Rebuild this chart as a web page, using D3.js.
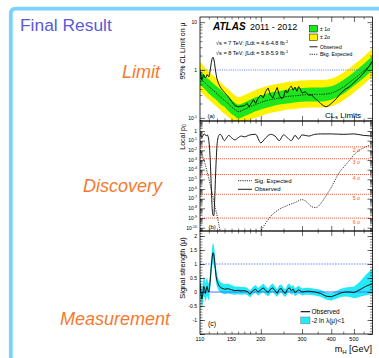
<!DOCTYPE html>
<html>
<head>
<meta charset="utf-8">
<script src="https://cdn.jsdelivr.net/npm/d3@7"></script>
<style>
body { margin:0; background:#fff; }
svg { display:block; font-family:"Liberation Sans", Arial, Helvetica, sans-serif; }
</style>
</head>
<body>
<svg id="chart" width="379" height="358"></svg>
<script>
// ---- data ----
// (a) 95% CL limit on mu
var limitMass = [110,115,120,125,130,135,140,145,150,155,160,165,170,180,190,200,220,240,260,280,300,330,360,400,450,500,550,600];
var limitExp  = [0.68,0.55,0.45,0.38,0.32,0.27,0.23,0.2,0.17,0.15,0.135,0.14,0.15,0.17,0.19,0.21,0.24,0.26,0.28,0.29,0.3,0.31,0.31,0.33,0.44,0.65,0.95,1.4];
var limitP1   = [0.98,0.77,0.63,0.53,0.45,0.38,0.32,0.28,0.24,0.21,0.19,0.196,0.21,0.24,0.27,0.29,0.34,0.36,0.39,0.41,0.42,0.43,0.43,0.46,0.62,0.91,1.33,1.96];
var limitP2   = [1.5,1.15,0.92,0.77,0.65,0.55,0.46,0.4,0.34,0.3,0.27,0.28,0.3,0.34,0.38,0.42,0.48,0.52,0.56,0.58,0.6,0.62,0.62,0.66,0.88,1.3,1.9,2.8];
var limitM1   = [0.49,0.4,0.32,0.27,0.23,0.19,0.17,0.14,0.12,0.108,0.097,0.1,0.108,0.122,0.137,0.15,0.17,0.19,0.2,0.21,0.216,0.22,0.22,0.24,0.32,0.47,0.68,1.0];
var limitM2   = [0.36,0.29,0.24,0.2,0.17,0.14,0.12,0.106,0.09,0.08,0.072,0.074,0.08,0.09,0.1,0.11,0.127,0.138,0.15,0.154,0.16,0.164,0.164,0.175,0.23,0.34,0.5,0.74];

var obsLimitMass = [110,111,112,113,114,115,116,117,118,119,120,121,122,123,124,125,126,127,128,129,130,132,134,136,138,140,143,146,150,155,160,165,170,175,178,182,186,190,195,200,205,210,215,220,225,230,235,240,245,250,255,260,265,270,275,280,285,290,295,300,310,320,330,340,350,360,370,380,390,400,420,440,460,480,500,520,540,560,580,600];
var obsLimit     = [0.95,0.75,0.62,0.7,0.8,0.72,0.68,0.72,0.8,0.75,0.72,0.85,1.1,1.45,1.75,1.85,1.7,1.35,1.0,0.8,0.65,0.52,0.45,0.4,0.37,0.34,0.3,0.27,0.22,0.18,0.17,0.175,0.18,0.2,0.17,0.2,0.24,0.2,0.26,0.3,0.26,0.36,0.42,0.3,0.26,0.34,0.43,0.3,0.25,0.27,0.38,0.33,0.42,0.46,0.38,0.44,0.36,0.45,0.4,0.33,0.35,0.3,0.3,0.26,0.23,0.2,0.18,0.17,0.18,0.2,0.25,0.33,0.4,0.45,0.55,0.65,0.78,0.95,1.2,1.55];

// (b) local p0
var p0Mass = [110,111,112,113,114,115,116,117,118,119,120,121,122,123,124,125,126,127,128,129,130,131,132,134,136,138,140,143,146,150,155,160,165,170,180,190,200,210,220,230,240,250,260,270,280,290,300,320,340,360,380,400,450,500,550,600];
var p0Obs  = [0.5,0.35,0.2,0.3,0.45,0.5,0.4,0.3,0.4,0.3,0.1,0.01,2e-4,1e-6,1e-8,2e-9,1.7e-9,5e-8,1e-5,1e-3,0.03,0.15,0.3,0.45,0.35,0.15,0.1,0.2,0.35,0.2,0.12,0.2,0.3,0.25,0.4,0.45,0.06,0.2,0.45,0.3,0.1,0.4,0.2,0.1,0.35,0.15,0.4,0.3,0.45,0.5,0.5,0.5,0.45,0.5,0.35,0.3];
var p0ExpMass = [110,112,114,116,118,120,122,124,126,128,130,132,134,136,150,170,190,200,210,220,240,260,280,300,310,330,345,360,380,400,430,460,480,500,530,560,585];
var p0Exp     = [1.1e-2,4e-3,1.2e-3,3e-4,6e-5,1.2e-5,2e-6,4e-7,6e-8,1e-8,2e-9,3e-10,5e-11,8e-12,1e-14,1e-14,1e-12,4e-11,3e-10,1.4e-9,8e-9,2e-8,4e-8,8e-8,6e-8,1.5e-8,1.2e-8,3e-8,2e-7,1.5e-6,4e-5,3e-4,1e-3,3.5e-3,1.1e-2,2.2e-2,3.5e-2];
var sigmaLabels = ["2 \u03c3","3 \u03c3","4 \u03c3","5 \u03c3","6 \u03c3"];
var sigmaP0     = [0.02275,1.35e-3,3.17e-5,2.87e-7,9.87e-10];

// (c) signal strength
var muMass = [110,111,112,113,114,115,116,117,118,119,120,121,122,123,124,125,126,127,128,129,130,132,135,140,145,150,155,160,165,170,175,180,185,190,195,200,205,210,215,220,225,230,235,240,245,250,255,260,265,270,275,280,290,300,310,320,340,360,380,400,420,440,460,480,500,520,540,560,580,600];
var muObs  = [0.3,0.0,-0.25,-0.1,0.2,0.15,-0.05,0.1,0.2,0.05,0.0,0.2,0.55,0.95,1.25,1.4,1.35,1.1,0.8,0.55,0.4,0.25,0.15,0.1,0.12,0.08,0.05,0.06,0.04,0.05,0.02,-0.08,0.05,0.1,0.0,0.08,0.15,0.05,-0.02,0.1,0.15,0.05,-0.05,0.1,0.12,0.0,-0.05,0.1,0.15,0.05,0.1,-0.02,0.08,0.0,0.02,0.03,0.0,-0.05,-0.15,-0.17,-0.1,-0.03,0.0,0.0,-0.02,0.05,0.12,0.2,0.25,0.3];
var muLow  = [-0.1,-0.35,-0.6,-0.45,-0.15,-0.2,-0.35,-0.25,-0.12,-0.25,-0.3,-0.1,0.25,0.6,0.9,1.05,1.0,0.8,0.5,0.3,0.18,0.05,-0.03,-0.08,-0.05,-0.08,-0.1,-0.08,-0.1,-0.08,-0.1,-0.2,-0.08,-0.03,-0.13,-0.05,0.0,-0.1,-0.15,-0.05,0.0,-0.1,-0.18,-0.05,-0.02,-0.13,-0.18,-0.05,0.0,-0.1,-0.05,-0.15,-0.05,-0.12,-0.1,-0.1,-0.12,-0.17,-0.27,-0.3,-0.24,-0.18,-0.16,-0.18,-0.22,-0.2,-0.15,-0.12,-0.1,-0.05];
var muHigh = [0.65,0.35,0.1,0.25,0.55,0.5,0.3,0.45,0.52,0.35,0.3,0.5,0.9,1.3,1.6,1.75,1.7,1.45,1.1,0.85,0.65,0.45,0.35,0.28,0.3,0.25,0.2,0.2,0.18,0.18,0.15,0.05,0.18,0.25,0.14,0.22,0.3,0.2,0.12,0.25,0.3,0.2,0.1,0.25,0.27,0.15,0.1,0.26,0.3,0.2,0.25,0.13,0.22,0.13,0.15,0.15,0.12,0.08,-0.02,-0.04,0.04,0.12,0.16,0.18,0.2,0.3,0.45,0.6,0.72,0.85];

var massTickLabels = [110,150,200,300,400,500];
var massMajor = [200,300,400,500];
var massMinor = [120,130,140,150,160,170,180,190,250,350,450,550];
var muTickLabels = [-1,-0.5,0,0.5,1,1.5,2];

// ---- layout ----
var svg = d3.select("#chart");
var X0 = 200, X1 = 372.5;
var PA = {top:17, bot:121}, PB = {top:121, bot:231}, PC = {top:231, bot:334};

var x  = d3.scaleLog().domain([110,600]).range([X0,X1]);
var ya = d3.scaleLog().domain([0.086,12.8]).range([PA.bot,PA.top]);
var yb = d3.scaleLog().domain([Math.pow(10,-10.34),Math.pow(10,1.034)]).range([PB.bot,PB.top]);
var yc = d3.scaleLinear().domain([-1.5,2.18]).range([PC.bot,PC.top]);

var GREEN = "#1ee61e", YELLOW = "#fff200", CYAN = "#22eaf6";

// blue slide border
svg.append("path")
  .attr("d","M10.8,358 L10.8,14 Q10.8,8.7 16,8.7 L379,8.7")
  .attr("fill","none").attr("stroke","#7ad3f8").attr("stroke-width",3.8);

// slide texts
svg.append("text").attr("x",20).attr("y",30.8).attr("font-size",17.4)
  .attr("fill","#5b5bd6").text("Final Result");
[["Limit",160,78],["Discovery",162,191.5],["Measurement",170,324.6]].forEach(function(d){
  svg.append("text").attr("x",d[1]).attr("y",d[2]).attr("text-anchor","end")
    .attr("font-size",18).attr("font-style","italic").attr("fill","#f47a2e").text(d[0]);
});

// clip paths
function clip(id, p){
  svg.append("clipPath").attr("id",id).append("rect")
    .attr("x",X0).attr("y",p.top).attr("width",X1-X0).attr("height",p.bot-p.top);
  return svg.append("g").attr("clip-path","url(#"+id+")");
}

// ===== panel (a) =====
var ga = clip("ca", PA);
var li = d3.range(limitMass.length);
ga.append("path").datum(li).attr("fill",YELLOW)
  .attr("d", d3.area().curve(d3.curveMonotoneX).x(function(i){return x(limitMass[i]);})
    .y0(function(i){return ya(limitM2[i]);}).y1(function(i){return ya(limitP2[i]);}));
ga.append("path").datum(li).attr("fill",GREEN)
  .attr("d", d3.area().curve(d3.curveMonotoneX).x(function(i){return x(limitMass[i]);})
    .y0(function(i){return ya(limitM1[i]);}).y1(function(i){return ya(limitP1[i]);}));
ga.append("line").attr("x1",X0).attr("x2",X1).attr("y1",ya(1)).attr("y2",ya(1))
  .attr("stroke","#4d6bff").attr("stroke-width",0.9).attr("stroke-dasharray","1,1.2");
ga.append("path").datum(li).attr("fill","none").attr("stroke","#000").attr("stroke-width",0.8)
  .attr("stroke-dasharray","1.3,1.1")
  .attr("d", d3.line().curve(d3.curveMonotoneX).x(function(i){return x(limitMass[i]);}).y(function(i){return ya(limitExp[i]);}));
ga.append("path").datum(d3.range(obsLimitMass.length)).attr("fill","none").attr("stroke","#000").attr("stroke-width",0.9)
  .attr("d", d3.line().x(function(i){return x(obsLimitMass[i]);}).y(function(i){return ya(obsLimit[i]);}));

// ===== panel (b) =====
var gb = clip("cb", PB);
sigmaP0.forEach(function(p){
  gb.append("line").attr("x1",X0).attr("x2",X1).attr("y1",yb(p)).attr("y2",yb(p))
    .attr("stroke","#ff4d2e").attr("stroke-width",0.9).attr("stroke-dasharray","1,1");
});
gb.append("path").datum(d3.range(p0ExpMass.length)).attr("fill","none").attr("stroke","#000").attr("stroke-width",0.8)
  .attr("stroke-dasharray","1.2,1.2")
  .attr("d", d3.line().curve(d3.curveMonotoneX).x(function(i){return x(p0ExpMass[i]);}).y(function(i){return yb(p0Exp[i]);}));
gb.append("path").datum(d3.range(p0Mass.length)).attr("fill","none").attr("stroke","#000").attr("stroke-width",0.9)
  .attr("d", d3.line().curve(d3.curveMonotoneX).x(function(i){return x(p0Mass[i]);}).y(function(i){return yb(p0Obs[i]);}));
sigmaP0.forEach(function(p,i){
  svg.append("text").attr("x",360).attr("y",yb(p)+5.5).attr("text-anchor","end")
    .attr("font-size",5).attr("fill","#ff4d2e").text(sigmaLabels[i]);
});

// ===== panel (c) =====
var gc = clip("cc", PC);
var mi = d3.range(muMass.length);
gc.append("path").datum(mi).attr("fill",CYAN)
  .attr("d", d3.area().x(function(i){return x(muMass[i]);})
    .y0(function(i){return yc(muLow[i]);}).y1(function(i){return yc(muHigh[i]);}));
gc.append("line").attr("x1",X0).attr("x2",X1).attr("y1",yc(1)).attr("y2",yc(1))
  .attr("stroke","#6f86ff").attr("stroke-width",1.1).attr("stroke-dasharray","1.5,1.2");
gc.append("line").attr("x1",X0).attr("x2",X1).attr("y1",yc(0)).attr("y2",yc(0))
  .attr("stroke","#5a6cff").attr("stroke-width",1.2);
gc.append("path").datum(mi).attr("fill","none").attr("stroke","#000").attr("stroke-width",0.9)
  .attr("d", d3.line().x(function(i){return x(muMass[i]);}).y(function(i){return yc(muObs[i]);}));

// ===== frames and ticks =====
function frame(p, y, major, minor){
  svg.append("rect").attr("x",X0).attr("y",p.top).attr("width",X1-X0).attr("height",p.bot-p.top)
    .attr("fill","none").attr("stroke","#000").attr("stroke-width",0.8);
  var axes = [
    [d3.axisLeft, X0], [d3.axisRight, X1]
  ];
  axes.forEach(function(a){
    svg.append("g").attr("transform","translate("+a[1]+",0)")
      .call(a[0](y).tickValues(major).tickSize(-5).tickFormat(""))
      .call(function(g){ g.select(".domain").remove(); g.selectAll("line").attr("stroke-width",0.6); });
    svg.append("g").attr("transform","translate("+a[1]+",0)")
      .call(a[0](y).tickValues(minor).tickSize(-2.5).tickFormat(""))
      .call(function(g){ g.select(".domain").remove(); g.selectAll("line").attr("stroke-width",0.5); });
  });
  [[d3.axisBottom, p.bot],[d3.axisTop, p.top]].forEach(function(a){
    svg.append("g").attr("transform","translate(0,"+a[1]+")")
      .call(a[0](x).tickValues(massMajor).tickSize(-5).tickFormat(""))
      .call(function(g){ g.select(".domain").remove(); g.selectAll("line").attr("stroke-width",0.6); });
    svg.append("g").attr("transform","translate(0,"+a[1]+")")
      .call(a[0](x).tickValues(massMinor).tickSize(-2.5).tickFormat(""))
      .call(function(g){ g.select(".domain").remove(); g.selectAll("line").attr("stroke-width",0.5); });
  });
}
function logMinor(lo, hi){
  var out = [];
  for (var e = lo; e <= hi; e++) for (var k = 2; k <= 9; k++) out.push(k*Math.pow(10,e));
  return out;
}
frame(PA, ya, [0.1,1,10], logMinor(-2,1).filter(function(v){return v>0.086 && v<12.8;}));
var decB = d3.range(-10,1).map(function(e){return Math.pow(10,e);});
frame(PB, yb, decB, logMinor(-11,0).filter(function(v){return v>yb.domain()[0] && v<yb.domain()[1];}));
frame(PC, yc, d3.range(-1.5,2.01,0.5), d3.range(-1.5,2.15,0.1));

// power-of-ten labels
function powLabel(yPos, e){
  var t = svg.append("text").attr("x",197).attr("y",yPos+1.8).attr("text-anchor","end").attr("font-size",5);
  if (e === 0) { t.text("1"); return; }
  if (e === 1) { t.text("10"); return; }
  t.append("tspan").text("10");
  t.append("tspan").attr("dy",-2).attr("font-size",3.6).text(e);
}
[-1,0,1].forEach(function(e){ powLabel(ya(Math.pow(10,e)), e); });
d3.range(-10,1).forEach(function(e){ powLabel(yb(Math.pow(10,e)), e); });
muTickLabels.forEach(function(v){
  svg.append("text").attr("x",197).attr("y",yc(v)+1.8).attr("text-anchor","end")
    .attr("font-size",5).text(v);
});
massTickLabels.forEach(function(m){
  svg.append("text").attr("x",x(m)).attr("y",341).attr("text-anchor","middle")
    .attr("font-size",5.5).text(m);
});

// axis titles
function vtitle(cx, cy, size){
  return svg.append("text").attr("transform","translate("+cx+","+cy+") rotate(-90)")
    .attr("text-anchor","middle").attr("font-size",size);
}
vtitle(184.5, 51, 7).text("95% CL Limit on \u03bc");
var lp = vtitle(184.5, 137, 7);
lp.append("tspan").text("Local p");
lp.append("tspan").attr("dy",1.8).attr("font-size",5).text("0");
vtitle(184.5, 268, 7.5).text("Signal strength (\u03bc)");
var mt = svg.append("text").attr("x",372).attr("y",351.5).attr("text-anchor","end").attr("font-size",9);
mt.append("tspan").text("m");
mt.append("tspan").attr("dy",2).attr("font-size",6).text("H");
mt.append("tspan").attr("dy",-2).text(" [GeV]");

// ---- panel (a) legend and labels ----
svg.append("text").attr("x",213).attr("y",30).attr("font-size",10).attr("font-weight","bold")
  .attr("font-style","italic").text("ATLAS");
svg.append("text").attr("x",250).attr("y",30).attr("font-size",9).text("2011 - 2012");
[["7","4.6-4.8",44.5],["8","5.8-5.9",54.5]].forEach(function(d){
  var t = svg.append("text").attr("x",216).attr("y",d[2]).attr("font-size",5.6);
  t.append("tspan").text("\u221as = "+d[0]+" TeV: \u222bLdt = "+d[1]+" fb");
  t.append("tspan").attr("dy",-2).attr("font-size",4).text("-1");
});
svg.append("rect").attr("x",309.5).attr("y",25.5).attr("width",8).attr("height",6.5)
  .attr("fill",GREEN).attr("stroke","#000").attr("stroke-width",0.5);
svg.append("rect").attr("x",309.5).attr("y",34).attr("width",8).attr("height",6.5)
  .attr("fill",YELLOW).attr("stroke","#000").attr("stroke-width",0.5);
svg.append("line").attr("x1",309.5).attr("x2",317.5).attr("y1",46.8).attr("y2",46.8)
  .attr("stroke","#000").attr("stroke-width",0.9);
svg.append("line").attr("x1",309.5).attr("x2",317.5).attr("y1",54.3).attr("y2",54.3)
  .attr("stroke","#000").attr("stroke-width",0.8).attr("stroke-dasharray","1.2,1");
[["\u00b1 1\u03c3",30.8],["\u00b1 2\u03c3",39.3],["Observed",48.6],["Bkg. Expected",56.1]].forEach(function(d){
  svg.append("text").attr("x",320).attr("y",d[1]).attr("font-size",5).text(d[0]);
});
var cls = svg.append("text").attr("x",325).attr("y",117.5).attr("font-size",8);
cls.append("tspan").text("CL");
cls.append("tspan").attr("dy",1.8).attr("font-size",5.5).text("s");
cls.append("tspan").attr("dy",-1.8).text(" Limits");
svg.append("text").attr("x",207.5).attr("y",118).attr("font-size",6).text("(a)");

// ---- panel (b) legend ----
svg.append("line").attr("x1",238).attr("x2",252).attr("y1",180.7).attr("y2",180.7)
  .attr("stroke","#000").attr("stroke-width",0.8).attr("stroke-dasharray","1.2,1");
svg.append("line").attr("x1",238).attr("x2",252).attr("y1",189.3).attr("y2",189.3)
  .attr("stroke","#000").attr("stroke-width",0.9);
svg.append("text").attr("x",254.5).attr("y",182.8).attr("font-size",6).text("Sig. Expected");
svg.append("text").attr("x",254.5).attr("y",191.4).attr("font-size",6).text("Observed");
svg.append("text").attr("x",208.5).attr("y",228.5).attr("font-size",6).text("(b)");

// ---- panel (c) legend ----
svg.append("line").attr("x1",300.7).attr("x2",310).attr("y1",311.7).attr("y2",311.7)
  .attr("stroke","#000").attr("stroke-width",1.1);
svg.append("rect").attr("x",300.7).attr("y",317).attr("width",9.3).attr("height",6.8)
  .attr("fill",CYAN).attr("stroke","#777").attr("stroke-width",0.5);
svg.append("text").attr("x",311.5).attr("y",314).attr("font-size",6.5).text("Observed");
svg.append("text").attr("x",311.5).attr("y",322.8).attr("font-size",6.5).text("-2 ln \u03bb(\u03bc)<1");
svg.append("text").attr("x",208).attr("y",325.5).attr("font-size",7).text("(c)");
</script>
</body>
</html>
